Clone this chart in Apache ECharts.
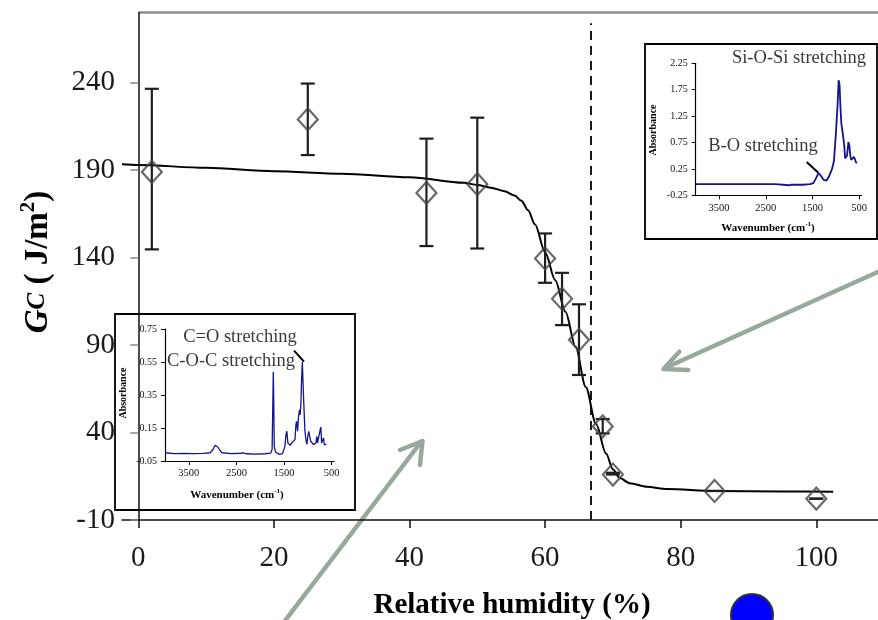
<!DOCTYPE html>
<html><head><meta charset="utf-8">
<script src="https://cdn.jsdelivr.net/npm/echarts@6/dist/echarts.min.js"></script>
<style>html,body{margin:0;padding:0;background:#fff}#c{width:878px;height:620px}</style>
</head><body><div id="c"></div>
<script>
// ---- main chart data ----
const humidity = [2, 25, 42.5, 50, 60, 62.5, 65, 68.5, 70, 85, 100];
const gc       = [189, 219, 177, 182, 139.5, 116.5, 93, 43.5, 16, 6.6, 2.2];
const gcHigh   = [236.5, 239.5, 208, 220, 153.8, 131.3, 113.3, 47.7, 17, 6.6, 2.2];
const gcLow    = [144.7, 198.6, 146.6, 145.2, 125.6, 101.4, 72.9, 39.5, 16, 6.6, 2.2];
const fitX = [-2.4, 0, 10, 20, 30, 40, 48, 50, 52, 54, 55.5, 56.5, 57.5, 58.5, 60, 61.5, 63, 64.5, 66, 67.5, 69, 70, 71, 72.5, 75, 78, 85, 95, 102.5];
const fitY = [193.4, 193, 191.3, 189.4, 188, 186, 182.8, 181.5, 180, 178, 175.5, 172.5, 167, 159, 143, 127, 109, 89, 66, 45, 28, 19, 14, 11, 9, 7.7, 6.6, 6.3, 6.2];
const thresholdRH = 66.8;
const xTicks = [0, 20, 40, 60, 80, 100];
const yTicks = [-10, 40, 90, 140, 190, 240];

// ---- inset spectra ----
const insetXTicks = [3500, 2500, 1500, 500];
const inset1YTicks = [-0.25, 0.25, 0.75, 1.25, 1.75, 2.25];
const inset2YTicks = [-0.05, 0.15, 0.35, 0.55, 0.75];
const wn1  = [4000, 3500, 3000, 2500, 2300, 2280, 2000, 1950, 1700, 1550, 1480, 1420, 1370, 1320, 1260, 1200, 1150, 1080, 1040, 1000, 960, 940, 920, 900, 880, 860, 840, 820, 800, 780, 760, 730, 710, 690, 670, 640, 610, 590, 570, 550];
const abs1 = [-0.04, -0.04, -0.04, -0.04, -0.04, -0.06, -0.06, -0.05, -0.05, -0.04, -0.02, 0.08, 0.17, 0.12, 0.04, 0.03, 0.1, 0.25, 0.4, 0.9, 1.5, 1.93, 1.85, 1.4, 1.1, 0.98, 0.95, 0.7, 0.45, 0.42, 0.5, 0.76, 0.7, 0.5, 0.42, 0.4, 0.48, 0.5, 0.38, 0.36];
const wn2  = [4000, 3800, 3600, 3400, 3200, 3050, 2990, 2950, 2920, 2890, 2850, 2800, 2600, 2400, 2350, 2300, 2100, 1900, 1780, 1750, 1735, 1725, 1715, 1705, 1680, 1600, 1530, 1480, 1460, 1440, 1420, 1390, 1370, 1340, 1300, 1270, 1250, 1235, 1215, 1195, 1175, 1160, 1145, 1130, 1115, 1100, 1085, 1060, 1040, 1020, 1000, 980, 965, 940, 910, 880, 850, 830, 810, 795, 775, 760, 740, 726, 710, 690, 670, 655, 630, 610];
const abs2 = [0.0, -0.005, -0.004, -0.005, -0.004, 0.0, 0.02, 0.045, 0.055, 0.035, 0.015, 0.0, -0.005, -0.003, -0.001, -0.006, -0.008, -0.006, -0.002, 0.02, 0.3, 0.49, 0.3, 0.04, 0.005, -0.01, -0.005, 0.04, 0.11, 0.13, 0.06, 0.07, 0.045, 0.06, 0.05, 0.08, 0.17, 0.19, 0.13, 0.22, 0.26, 0.23, 0.3, 0.45, 0.55, 0.42, 0.3, 0.13, 0.08, 0.05, 0.1, 0.13, 0.12, 0.07, 0.06, 0.05, 0.055, 0.06, 0.1, 0.06, 0.05, 0.06, 0.14, 0.155, 0.06, 0.05, 0.09, 0.05, 0.055, 0.05];

const SERIF = '"Liberation Serif", "Times New Roman", serif';
const chart = echarts.init(document.getElementById('c'), null, {renderer: 'canvas'});

function insetAxes(grid, ymin, ymax, yTickVals) {
  return {
    x: {
      gridIndex: grid, type: 'value', inverse: true, min: 450, max: 4000,
      axisLine: {onZero: false, lineStyle: {color: '#000', width: 1.2}},
      axisTick: {customValues: insetXTicks, length: 4, lineStyle: {color: '#000'}},
      axisLabel: {customValues: insetXTicks, fontFamily: SERIF, fontSize: 10.5, color: '#111', margin: 7,
        formatter: v => String(v)},
      splitLine: {show: false}
    },
    y: {
      gridIndex: grid, type: 'value', min: ymin, max: ymax,
      axisLine: {onZero: false, lineStyle: {color: '#000', width: 1.2}},
      axisTick: {customValues: yTickVals, length: 4, lineStyle: {color: '#000'}},
      axisLabel: {customValues: yTickVals, fontFamily: SERIF, fontSize: 10, color: '#111', margin: 8,
        formatter: v => v.toFixed(2)},
      splitLine: {show: false}
    }
  };
}
const in1 = insetAxes(1, -0.25, 2.25, inset1YTicks);
const in2 = insetAxes(2, -0.05, 0.75, inset2YTicks);

const greenArrow = {stroke: '#97a89c', lineWidth: 4.5, lineCap: 'round', lineJoin: 'round', fill: null};

function rotatedText(x, y, rich, text) {
  return {type: 'text', x: x, y: y, rotation: Math.PI / 2, z: 5,
    style: {text: text, rich: rich, x: 0, y: 0, align: 'center', verticalAlign: 'middle', textAlign: 'center', textVerticalAlign: 'middle', fill: '#000'}};
}
function plainText(x, y, text, font, color) {
  return {type: 'text', x: x, y: y, z: 5,
    style: {text: text, font: font, fill: color || '#333', x: 0, y: 0, align: 'center', verticalAlign: 'middle', textAlign: 'center', textVerticalAlign: 'middle'}};
}
const absRich = {a: {fontFamily: SERIF, fontWeight: 'bold', fontSize: 10, fill: '#000', color: '#000'}};
const wnRich = {
  a: {fontFamily: SERIF, fontWeight: 'bold', fontSize: 11, color: '#000'},
  s: {fontFamily: SERIF, fontWeight: 'bold', fontSize: 7, color: '#000', padding: [0, 0, 7, 0]}
};
function wnText(x, y) {
  return {type: 'text', x: x, y: y, z: 5,
    style: {text: '{a|Wavenumber (cm}{s|-1}{a|)}', rich: wnRich, x: 0, y: 0, align: 'center', verticalAlign: 'middle', textAlign: 'center', textVerticalAlign: 'middle'}};
}

const option = {
  backgroundColor: '#fff',
  animation: false,
  grid: [
    {left: 122, right: 0, top: 12.7, bottom: 100},
    {left: 695.7, width: 165.8, top: 63.3, height: 132},
    {left: 165, width: 169, top: 329, height: 132}
  ],
  xAxis: [
    {gridIndex: 0, type: 'value', min: -2.4, max: 109.1, z: 10,
      axisLine: {onZero: false, lineStyle: {color: '#111', width: 1.5}},
      axisTick: {customValues: xTicks, length: 8, lineStyle: {color: '#111', width: 1.5}},
      axisLabel: {customValues: xTicks, fontFamily: SERIF, fontSize: 29, color: '#1a1a1a', margin: 24},
      splitLine: {show: false}},
    in1.x, in2.x
  ],
  yAxis: [
    {gridIndex: 0, type: 'value', min: -10, max: 280, z: 10,
      axisLine: {onZero: true, lineStyle: {color: '#111', width: 1.5}},
      axisTick: {customValues: yTicks, length: 8, lineStyle: {color: '#888', width: 1.5}},
      axisLabel: {customValues: yTicks, fontFamily: SERIF, fontSize: 29, color: '#1a1a1a', margin: 7},
      splitLine: {show: false}},
    in1.y, in2.y
  ],
  series: [
    {
      type: 'line', xAxisIndex: 0, yAxisIndex: 0, z: 3,
      data: fitX.map((x, i) => [x, fitY[i]]),
      smooth: 0.3, smoothMonotone: 'x', showSymbol: false, symbol: 'none',
      lineStyle: {color: '#000', width: 2},
      markLine: {
        silent: true, symbol: ['none', 'none'], label: {show: false},
        data: [
          [{coord: [thresholdRH, -10], lineStyle: {color: '#000', width: 1.8, type: [9, 6]}},
           {coord: [thresholdRH, 274]}],
          [{coord: [0, 280], lineStyle: {color: '#8c8c8c', width: 2.5, type: 'solid'}},
           {coord: [109.1, 280]}]
        ]
      }
    },
    {
      type: 'custom', xAxisIndex: 0, yAxisIndex: 0, z: 4,
      data: humidity.map((x, i) => [x, gcLow[i], gcHigh[i]]),
      encode: {x: 0, y: [1, 2]},
      renderItem: function (params, api) {
        const x = api.value(0), lo = api.value(1), hi = api.value(2);
        const pLo = api.coord([x, lo]), pHi = api.coord([x, hi]);
        const hw = 7;
        const st = {stroke: '#1e1e1e', lineWidth: 2.2, fill: null};
        return {type: 'group', children: [
          {type: 'line', shape: {x1: pLo[0], y1: pLo[1], x2: pHi[0], y2: pHi[1]}, style: st},
          {type: 'line', shape: {x1: pLo[0] - hw, y1: pLo[1], x2: pLo[0] + hw, y2: pLo[1]}, style: st},
          {type: 'line', shape: {x1: pHi[0] - hw, y1: pHi[1], x2: pHi[0] + hw, y2: pHi[1]}, style: st}
        ]};
      }
    },
    {
      type: 'scatter', xAxisIndex: 0, yAxisIndex: 0, z: 5,
      data: humidity.map((x, i) => [x, gc[i]]),
      symbol: 'diamond', symbolSize: [20, 22],
      itemStyle: {color: 'rgba(255,255,255,0)', borderColor: '#454545', borderWidth: 2.2}
    },
    {
      type: 'line', xAxisIndex: 1, yAxisIndex: 1, z: 3,
      data: wn1.map((w, i) => [w, abs1[i]]),
      symbol: 'none', lineStyle: {color: '#14148c', width: 1.8}
    },
    {
      type: 'line', xAxisIndex: 2, yAxisIndex: 2, z: 3,
      data: wn2.map((w, i) => [w, abs2[i]]),
      symbol: 'none', lineStyle: {color: '#14148c', width: 1.3}
    }
  ],
  graphic: [
    {type: 'rect', z: -10, shape: {x: 645, y: 44, width: 232, height: 195}, style: {fill: '#fff', stroke: '#000', lineWidth: 1.8}},
    {type: 'rect', z: -10, shape: {x: 115, y: 314, width: 240, height: 196}, style: {fill: '#fff', stroke: '#000', lineWidth: 1.8}},
    plainText(512, 606, 'Relative humidity (%)', 'bold 29px ' + SERIF, '#000'),
    rotatedText(38, 262, {
      g: {fontFamily: SERIF, fontWeight: 'bold', fontStyle: 'italic', fontSize: 33, color: '#000'},
      c: {fontFamily: SERIF, fontWeight: 'bold', fontStyle: 'italic', fontSize: 25, color: '#000'},
      t: {fontFamily: SERIF, fontWeight: 'bold', fontSize: 33, color: '#000'},
      s: {fontFamily: SERIF, fontWeight: 'bold', fontSize: 21, color: '#000', padding: [0, 0, 18, 0]}
    }, '{g|G}{c|C}{t| ( J/m}{s|2}{t|)}'),
    plainText(799, 58, 'Si-O-Si stretching', '18.5px ' + SERIF, '#3a3a3a'),
    plainText(763, 146, 'B-O stretching', '18.5px ' + SERIF, '#3a3a3a'),
    plainText(240, 337, 'C=O stretching', '18.5px ' + SERIF, '#3a3a3a'),
    plainText(231, 361, 'C-O-C stretching', '18.5px ' + SERIF, '#3a3a3a'),
    {type: 'line', z: 5, shape: {x1: 806.7, y1: 162, x2: 818.3, y2: 172.7}, style: {stroke: '#000', lineWidth: 2}},
    {type: 'line', z: 5, shape: {x1: 294, y1: 350.7, x2: 304, y2: 361.7}, style: {stroke: '#000', lineWidth: 2}},
    rotatedText(653, 130, absRich, '{a|Absorbance}'),
    rotatedText(123, 393, absRich, '{a|Absorbance}'),
    wnText(768, 228),
    wnText(237, 495),
    {type: 'polyline', z: 6, shape: {points: [[880, 271], [665, 368]]}, style: greenArrow},
    {type: 'polyline', z: 6, shape: {points: [[679.3, 351.7], [663.5, 369], [688.3, 370]]}, style: greenArrow},
    {type: 'polyline', z: 6, shape: {points: [[284, 622], [421, 442]]}, style: greenArrow},
    {type: 'polyline', z: 6, shape: {points: [[400, 450], [422.5, 441], [420, 465]]}, style: greenArrow},
    {type: 'circle', z: 6, shape: {cx: 752, cy: 615, r: 21}, style: {fill: '#0000ff', stroke: '#333', lineWidth: 2}}
  ]
};
chart.setOption(option);
</script>
</body></html>
